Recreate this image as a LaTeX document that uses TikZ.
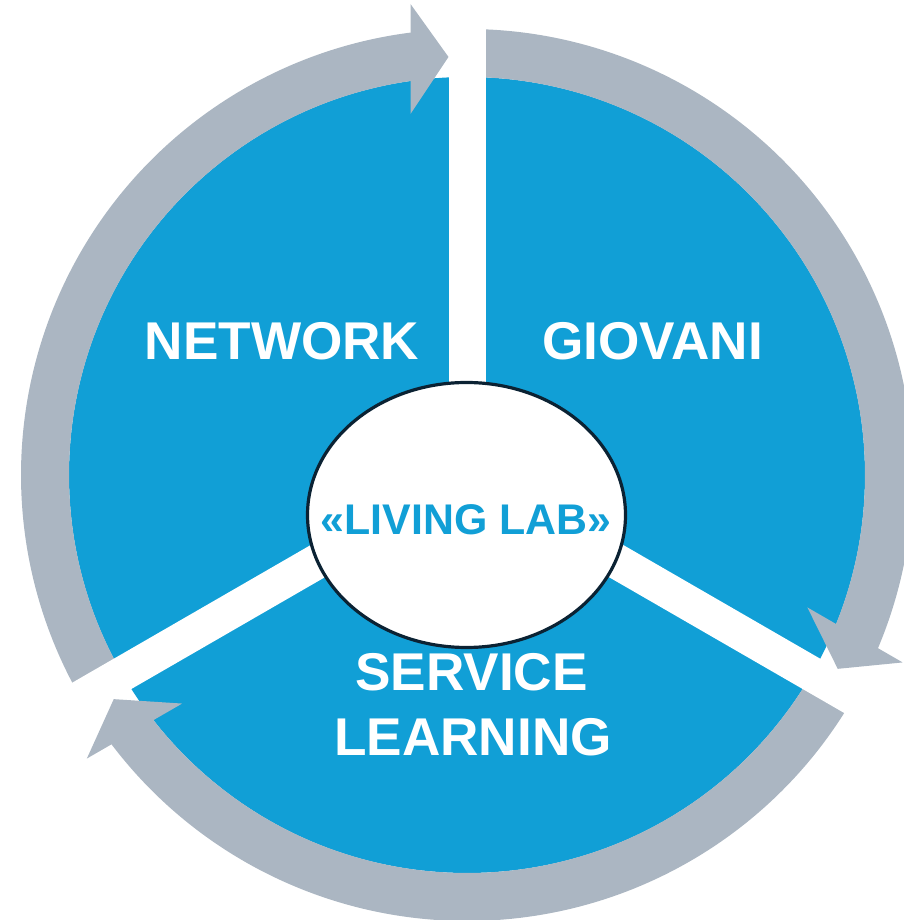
\documentclass[tikz,border=0pt]{standalone}
\usepackage{fontspec}
\setmainfont{Liberation Sans}
\definecolor{cblue}{HTML}{119FD6}
\definecolor{cgray}{HTML}{ABB6C2}
\definecolor{cnavy}{HTML}{0B2233}
\begin{document}
\begin{tikzpicture}[x=0.025cm,y=0.025cm,
  ring/.style={fill=cgray},
  gapstrip/.style={fill=white},
  headtip/.style={fill=cgray},
  lbl/.style={text=white,font=\fontsize{37.8}{40}\selectfont\bfseries,anchor=base,inner sep=0pt}]
\useasboundingbox (0,0) rectangle (903,920);
\begin{scope}[shift={(467,445)}]
  % blue disk
  \fill[cblue] (0,0) circle[radius=398];
  % arrow shafts
  \fill[ring] (210:446) arc[start angle=210,end angle=96.5,radius=446] -- (96.5:398) arc[start angle=96.5,end angle=210,radius=398] -- cycle;
  \fill[ring] (90:446) arc[start angle=90,end angle=-23.5,radius=446] -- (-23.5:398) arc[start angle=-23.5,end angle=90,radius=398] -- cycle;
  \fill[ring] (-30:446) arc[start angle=-30,end angle=-143.5,radius=446] -- (-143.5:398) arc[start angle=-143.5,end angle=-30,radius=398] -- cycle;
  % white gaps
  \begin{scope}[rotate=90]
    \fill[gapstrip] (0,-18.5) rectangle (520,18.5);
  \end{scope}
  \begin{scope}[rotate=-30]
    \fill[gapstrip] (0,-17.5) rectangle (520,17.5);
  \end{scope}
  \begin{scope}[rotate=210]
    \fill[gapstrip] (0,-17.5) rectangle (520,17.5);
  \end{scope}
  % arrow heads
  \begin{scope}[rotate=90]
    \fill[headtip] (418,18.5) -- (361,56.5) -- (471,56.5) -- cycle;
  \end{scope}
  \begin{scope}[rotate=-30]
    \fill[headtip] (418,17.5) -- (361,55.5) -- (471,55.5) -- cycle;
  \end{scope}
  \begin{scope}[rotate=210]
    \fill[headtip] (418,17.5) -- (361,55.5) -- (471,55.5) -- cycle;
  \end{scope}
  % centre ellipse
  \draw[line width=0.08cm,draw=cnavy,fill=white] (-0.5,-40) ellipse[x radius=159,y radius=132.5];
  % labels
  \node[lbl] (network) at (-185,115) {NETWORK};
  \node[lbl] (giovani) at (185.5,115) {GIOVANI};
  \node[lbl] (service) at (4.5,-216) {SERVICE};
  \node[lbl] (learning) at (6,-281) {LEARNING};
  \node[lbl,text=cblue,font=\fontsize{30.5}{34}\selectfont\bfseries] (living) at (-1,-60) {«LIVING LAB»};
\end{scope}
\end{tikzpicture}
\end{document}
